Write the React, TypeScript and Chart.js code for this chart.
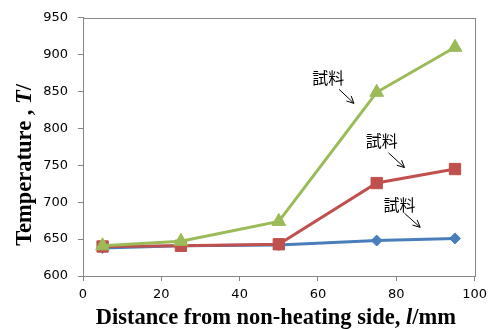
import React, { useEffect, useRef } from "react";
import { Chart, registerables } from "chart.js";

Chart.register(...registerables);

const distances = [5, 25, 50, 75, 95];
const seriesBlue = [638, 641, 642, 648, 651];
const seriesRed = [640, 641, 643, 726, 745];
const seriesGreen = [641, 647, 674, 849, 910];
const xTicks = [0, 20, 40, 60, 80, 100];
const yTicks = [600, 650, 700, 750, 800, 850, 900, 950];
const annotationLabel = "試料";
// label centre, arrow start, arrow end (data units)
const labelPoints = [
  { x: 62.6, y: 868 },
  { x: 76.3, y: 783 },
  { x: 80.8, y: 696 },
];
const arrowStarts = [
  { x: 65.4, y: 853 },
  { x: 78.0, y: 767 },
  { x: 82.1, y: 685 },
];
const arrowEnds = [
  { x: 69.2, y: 834 },
  { x: 82.1, y: 747 },
  { x: 86.1, y: 666 },
];

const yTitleParts = [
  { t: "Temperature , ", i: false },
  { t: "T", i: true },
  { t: "/", i: false },
];
const xTitleParts = [
  { t: "Distance from non-heating side, ", i: false },
  { t: "l", i: true },
  { t: "/mm", i: false },
];

const toXY = (xs: number[], ys: number[]) => xs.map((x, i) => ({ x, y: ys[i] }));

function drawParts(ctx: CanvasRenderingContext2D, parts: { t: string; i: boolean }[], size: number) {
  const fonts = parts.map((p) => `${p.i ? "italic " : ""}bold ${size}px "Liberation Serif", serif`);
  let total = 0;
  const widths = parts.map((p, k) => {
    ctx.font = fonts[k];
    const w = ctx.measureText(p.t).width;
    total += w;
    return w;
  });
  let x = -total / 2;
  parts.forEach((p, k) => {
    ctx.font = fonts[k];
    ctx.fillText(p.t, x, 0);
    x += widths[k];
  });
}

const decorPlugin = {
  id: "decor",
  afterDraw(chart: any) {
    const { ctx, chartArea, scales } = chart;
    const xs = scales.x;
    const ys = scales.y;
    ctx.save();
    // frame
    ctx.strokeStyle = "#868686";
    ctx.lineWidth = 1;
    ctx.strokeRect(
      Math.round(chartArea.left) + 0.5,
      Math.round(chartArea.top) + 0.5,
      Math.round(chartArea.right - chartArea.left),
      Math.round(chartArea.bottom - chartArea.top)
    );
    // annotations
    ctx.fillStyle = "#000";
    ctx.strokeStyle = "#000";
    ctx.font = '16px "Noto Sans CJK JP", sans-serif';
    ctx.textAlign = "center";
    ctx.textBaseline = "middle";
    labelPoints.forEach((p, k) => {
      ctx.fillText(annotationLabel, xs.getPixelForValue(p.x), ys.getPixelForValue(p.y));
      const x1 = xs.getPixelForValue(arrowStarts[k].x);
      const y1 = ys.getPixelForValue(arrowStarts[k].y);
      const x2 = xs.getPixelForValue(arrowEnds[k].x);
      const y2 = ys.getPixelForValue(arrowEnds[k].y);
      ctx.lineWidth = 1;
      ctx.beginPath();
      ctx.moveTo(x1, y1);
      ctx.lineTo(x2, y2);
      const ang = Math.atan2(y2 - y1, x2 - x1);
      const hl = 8;
      ctx.moveTo(x2 - hl * Math.cos(ang - 0.45), y2 - hl * Math.sin(ang - 0.45));
      ctx.lineTo(x2, y2);
      ctx.lineTo(x2 - hl * Math.cos(ang + 0.45), y2 - hl * Math.sin(ang + 0.45));
      ctx.stroke();
    });
    // axis titles
    ctx.fillStyle = "#000";
    ctx.textAlign = "left";
    ctx.textBaseline = "middle";
    ctx.save();
    ctx.translate(25, (chartArea.top + chartArea.bottom) / 2 + 18);
    ctx.rotate(-Math.PI / 2);
    drawParts(ctx, yTitleParts, 22.5);
    ctx.restore();
    ctx.save();
    ctx.translate((chartArea.left + chartArea.right) / 2 - 3, 318);
    drawParts(ctx, xTitleParts, 22.5);
    ctx.restore();
    ctx.restore();
  },
};

export default function App() {
  const ref = useRef<HTMLCanvasElement | null>(null);
  useEffect(() => {
    if (!ref.current) return;
    const tickFont = { family: '"DejaVu Sans", sans-serif', size: 13 };
    const chart = new Chart(ref.current, {
      type: "line",
      data: {
        datasets: [
          {
            data: toXY(distances, seriesGreen),
            borderColor: "#9BBB59",
            backgroundColor: "#9BBB59",
            borderWidth: 3,
            pointStyle: "triangle",
            pointRadius: 8,
            pointBorderWidth: 1,
          },
          {
            data: toXY(distances, seriesRed),
            borderColor: "#C0504D",
            backgroundColor: "#C0504D",
            borderWidth: 3,
            pointStyle: "rect",
            pointRadius: 8,
            pointBorderWidth: 1,
          },
          {
            data: toXY(distances, seriesBlue),
            borderColor: "#4A7EBB",
            backgroundColor: "#4A7EBB",
            borderWidth: 3,
            pointStyle: "rectRot",
            pointRadius: 5.5,
            pointBorderWidth: 1,
          },
        ],
      },
      options: {
        animation: false,
        responsive: false,
        maintainAspectRatio: false,
        layout: { padding: { top: 16, right: 14, left: 0, bottom: 0 } },
        plugins: { legend: { display: false }, tooltip: { enabled: false } },
        scales: {
          x: {
            type: "linear",
            min: 0,
            max: 100,
            afterBuildTicks: (s: any) => {
              s.ticks = xTicks.map((v) => ({ value: v }));
            },
            afterFit: (s: any) => {
              s.height = 53;
            },
            grid: { drawOnChartArea: false, drawTicks: true, tickLength: 5, color: "#868686" },
            border: { display: true, color: "#868686" },
            ticks: { font: tickFont, color: "#000", padding: 6, maxRotation: 0 },
          },
          y: {
            type: "linear",
            min: 600,
            max: 950,
            afterBuildTicks: (s: any) => {
              s.ticks = yTicks.map((v) => ({ value: v }));
            },
            afterFit: (s: any) => {
              s.width = 83;
            },
            grid: { drawOnChartArea: false, drawTicks: true, tickLength: 5, color: "#868686" },
            border: { display: true, color: "#868686" },
            ticks: { font: tickFont, color: "#000", padding: 10 },
          },
        },
      },
      plugins: [decorPlugin],
    });
    return () => chart.destroy();
  }, []);
  return (
    <div style={{ position: "absolute", left: 0, top: 0, width: 493, height: 329, background: "#fff" }}>
      <canvas ref={ref} width={493} height={329} style={{ display: "block" }} />
    </div>
  );
}
